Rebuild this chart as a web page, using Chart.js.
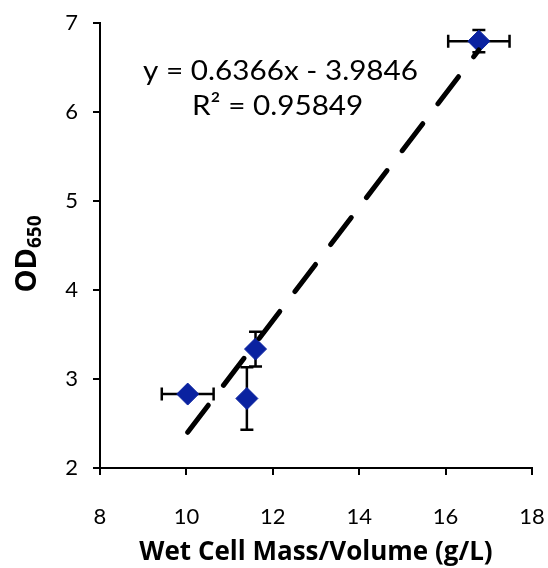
<!DOCTYPE html>
<html>
<head>
<meta charset="utf-8">
<script src="https://cdn.jsdelivr.net/npm/chart.js@4.4.0/dist/chart.umd.min.js"></script>
<style>
  html, body { margin: 0; padding: 0; background: #fff; }
  #wrap { width: 548px; height: 568px; }
</style>
</head>
<body>
<div id="wrap"><canvas id="scatterChart"></canvas></div>
<script>
// measured points (wet cell mass vs OD650)
const massX = [10.03, 11.4, 11.6, 16.77];
const odY = [2.83, 2.78, 3.335, 6.79];
const massErr = [0.6, 0, 0, 0.71];
const odErr = [0, 0.35, 0.195, 0.125];
// linear trendline shown on the chart
const slope = 0.6366;
const intercept = -3.9846;
const trendX = [10.03, 16.77];
const xTicks = [8, 10, 12, 14, 16, 18];
const yTicks = [2, 3, 4, 5, 6, 7];

const FONT = 'Lato';
const TITLE_FONT = '"Open Sans"';

const points = massX.map((x, i) => ({ x: x, y: odY[i] }));
const trend = trendX.map(x => ({ x: x, y: slope * x + intercept }));

const errorBars = {
  id: 'errorBars',
  beforeDatasetsDraw(chart) {
    const xs = chart.scales.x, ys = chart.scales.y;
    const c = chart.ctx;
    c.save();
    c.strokeStyle = '#000';
    c.lineWidth = 2.5;
    const cap = 6.5;
    points.forEach((p, i) => {
      const px = xs.getPixelForValue(p.x), py = ys.getPixelForValue(p.y);
      if (massErr[i] > 0) {
        const x0 = xs.getPixelForValue(p.x - massErr[i]);
        const x1 = xs.getPixelForValue(p.x + massErr[i]);
        c.beginPath();
        c.moveTo(x0, py); c.lineTo(x1, py);
        c.moveTo(x0, py - cap); c.lineTo(x0, py + cap);
        c.moveTo(x1, py - cap); c.lineTo(x1, py + cap);
        c.stroke();
      }
      if (odErr[i] > 0) {
        const y0 = ys.getPixelForValue(p.y - odErr[i]);
        const y1 = ys.getPixelForValue(p.y + odErr[i]);
        c.beginPath();
        c.moveTo(px, y0); c.lineTo(px, y1);
        c.moveTo(px - cap, y0); c.lineTo(px + cap, y0);
        c.moveTo(px - cap, y1); c.lineTo(px + cap, y1);
        c.stroke();
      }
    });
    c.restore();
  }
};

// slightly widened text, closer to the Calibri look of the original
function wideText(c, text, x, y) {
  c.save();
  c.translate(x, y);
  c.scale(1.1, 1);
  c.fillText(text, 0, 0);
  c.restore();
}

const labels = {
  id: 'labels',
  afterDraw(chart) {
    const c = chart.ctx;
    c.save();
    c.fillStyle = '#000';
    c.textBaseline = 'middle';
    c.textAlign = 'left';
    c.font = '27px ' + FONT;
    wideText(c, 'y = 0.6366x - 3.9846', 143, 71);
    wideText(c, 'R² = 0.95849', 192, 106);

    // y axis title with subscript
    c.translate(28, 254);
    c.rotate(-Math.PI / 2);
    c.font = 'bold 29px ' + TITLE_FONT;
    const w1 = c.measureText('OD').width;
    c.font = 'bold 19px ' + TITLE_FONT;
    const w2 = c.measureText('650').width;
    const start = -(w1 + w2) / 2;
    c.font = 'bold 29px ' + TITLE_FONT;
    c.fillText('OD', start, 0);
    c.font = 'bold 19px ' + TITLE_FONT;
    c.fillText('650', start + w1, 8);
    c.restore();
  }
};

const ctx = document.getElementById('scatterChart').getContext('2d');
const chart = new Chart(ctx, {
  type: 'scatter',
  data: {
    datasets: [
      {
        label: 'trend',
        type: 'line',
        data: trend,
        borderColor: '#000',
        borderWidth: 5,
        borderDash: [34, 25],
        borderCapStyle: 'round',
        pointRadius: 0,
        fill: false,
        order: 0
      },
      {
        label: 'OD650',
        data: points,
        pointStyle: 'rectRot',
        pointRadius: 11,
        pointBackgroundColor: '#0A22A0',
        pointBorderColor: '#0A22A0',
        pointBorderWidth: 1,
        order: 1
      }
    ]
  },
  options: {
    responsive: true,
    maintainAspectRatio: false,
    animation: false,
    layout: { padding: { left: 0, right: 16, top: 22.5, bottom: 0 } },
    plugins: {
      legend: { display: false },
      tooltip: { enabled: false }
    },
    scales: {
      x: {
        type: 'linear',
        min: 8, max: 18,
        afterFit(scale) {
          scale.height = 100;
          scale.paddingLeft = 0;
          scale.paddingRight = 0;
        },
        afterBuildTicks(scale) { scale.ticks = xTicks.map(v => ({ value: v })); },
        grid: { display: true, drawOnChartArea: false, drawTicks: true, tickLength: 7, color: '#000', lineWidth: 2 },
        border: { display: true, color: '#000', width: 2 },
        ticks: { color: '#000', font: { family: FONT, size: 22 }, padding: 29, maxRotation: 0 },
        title: { display: true, text: 'Wet Cell Mass/Volume (g/L)', color: '#000', font: { family: TITLE_FONT, size: 26, weight: 'bold' }, padding: 0 }
      },
      y: {
        type: 'linear',
        min: 2, max: 7,
        afterFit(scale) {
          scale.width = 100;
          scale.paddingTop = 0;
          scale.paddingBottom = 0;
        },
        afterBuildTicks(scale) { scale.ticks = yTicks.map(v => ({ value: v })); },
        grid: { display: true, drawOnChartArea: false, drawTicks: true, tickLength: 7, color: '#000', lineWidth: 2 },
        border: { display: true, color: '#000', width: 2 },
        ticks: { color: '#000', font: { family: FONT, size: 22 }, padding: 15 }
      }
    }
  },
  plugins: [errorBars, labels]
});
</script>
</body>
</html>
